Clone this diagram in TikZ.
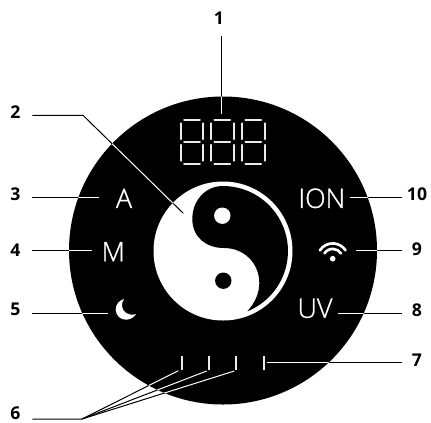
\documentclass[tikz,border=0pt]{standalone}
\usepackage{fontspec}
\setmainfont{Open Sans}
\newfontfamily\keyfont[FakeBold=1]{Open Sans Light}

\tikzset{
  numlabel/.style={font=\fontsize{13.2}{15}\selectfont\bfseries, inner sep=0pt, minimum width=24.75pt},
  numright/.style={numlabel, minimum width=22.5pt},
  keytext/.style={font=\keyfont\fontsize{20.2}{22}\selectfont, text=white, inner sep=0pt},
  callout/.style={line width=0.75pt},
  segment/.style={line width=1.6pt, white!92!black, line cap=round},
  tickmark/.style={line width=1.5pt, white!92!black},
}

% all the callout lines, drawn once in black and once in white
\newcommand{\calloutlines}[1]{
  \draw[callout,#1] (lab1.south -| e1) -- (e1);
  \draw[callout,#1] (lab2.east |- k2) -- (k2) -- (e2);
  \draw[callout,#1] (lab3.east |- e3) -- (e3);
  \draw[callout,#1] (lab4.east |- e4) -- (e4);
  \draw[callout,#1] (lab5.east |- e5) -- (e5);
  \draw[callout,#1] (lab6.east |- k6) -- (k6) -- (e6a);
  \draw[callout,#1] (k6) -- (e6b);
  \draw[callout,#1] (k6) -- (e6c);
  \draw[callout,#1] (lab7.west |- e7) -- (e7);
  \draw[callout,#1] (lab8.west |- e8) -- (e8);
  \draw[callout,#1] (lab9.west |- e9) -- (e9);
  \draw[callout,#1] (lab10.west |- e10) -- (e10);
}

\begin{document}
\begin{tikzpicture}[x=0.75pt,y=-0.75pt]

\path[use as bounding box,fill=white] (0,0) rectangle (431,422);

% body
\fill[black] (223,250.5) circle[radius=154];

% numbers
\node[numlabel,minimum height=27pt] (lab1) at (219,18) {1};
\node[numlabel] (lab2) at (15.5,111.7) {2};
\node[numlabel] (lab3) at (15.5,194) {3};
\node[numlabel] (lab4) at (15.5,250) {4};
\node[numlabel] (lab5) at (15.5,309) {5};
\node[numlabel] (lab6) at (15.5,413.5) {6};
\node[numright] (lab7) at (417,360.7) {7};
\node[numright] (lab8) at (417,310) {8};
\node[numright] (lab9) at (417,249) {9};
\node[numright] (lab10) at (417,194) {10};

% free ends of the callouts
\coordinate (e1) at (221.5,114);
\coordinate (k2) at (83,115.3);
\coordinate (e2) at (183.3,213.3);
\coordinate (e3) at (99,197.3);
\coordinate (e4) at (92,250.3);
\coordinate (e5) at (108,313.3);
\coordinate (k6) at (82,419);
\coordinate (e6a) at (178.3,370.7);
\coordinate (e6b) at (206.7,371);
\coordinate (e6c) at (234.3,371);
\coordinate (e7) at (266.7,362);
\coordinate (e8) at (338,313.3);
\coordinate (e9) at (355.7,250.3);
\coordinate (e10) at (350,197.3);

\calloutlines{black}
\begin{scope}
  \clip (223,250.5) circle[radius=154];
  \calloutlines{white}
\end{scope}

% display
\foreach \dx in {180.7,211,242} {
  \begin{scope}[shift={(\dx,120.3)}]
    \foreach \sy in {0,21.7,43.4}
      \draw[segment] (3.5,\sy) -- (19.1,\sy);
    \foreach \sx in {0,22.6} {
      \draw[segment] (\sx,3) -- (\sx,18.7);
      \draw[segment] (\sx,24.7) -- (\sx,40.4);
    }
  \end{scope}
}

% yin yang
\fill[white] (223,251) circle[radius=69.5];
\fill[black] (247.3,311.3) arc[start angle=68,end angle=-90,radius=65]
  .. controls (205,186) and (192.3,201) .. (192.3,219)
  .. controls (192.3,237) and (206,248) .. (224,248)
  .. controls (244,248) and (259.3,263) .. (259.3,283)
  .. controls (259.3,293) and (255,303) .. (247.3,311.3) -- cycle;
\fill[white] (222.3,215.7) circle[radius=8.2];
\fill[black] (223.3,280.7) circle[radius=8.2];
\begin{scope}
  \clip (223,251) circle[radius=69.5];
  \draw[callout,black] (k2) -- (e2);
\end{scope}

% keys
\node[keytext] (keyA) at (124,198.3) {A};
\node[keytext] (keyM) at (113.3,251.7) {M};
\node[keytext] (keyION) at (321.7,198.3) {ION};
\node[keytext] (keyUV) at (315,308.3) {UV};

% moon
\fill[white] (124,299) .. controls (119,300.5) and (115.7,304.5) .. (115.7,309.5)
  .. controls (115.7,315.5) and (120.5,319.7) .. (126,319.7)
  .. controls (130,319.7) and (134,317.5) .. (136,314)
  .. controls (129,316.5) and (122.5,312) .. (122,306.5)
  .. controls (121.7,303.5) and (122.5,301) .. (124,299) -- cycle;

% wifi
\fill[white] (332.7,258.7) circle[radius=2.8];
\foreach \r in {9.8,15.3}
  \draw[white,line width=2pt,line cap=round] (332.7,258.7) ++(-147:\r) arc[start angle=-147,end angle=-33,radius=\r];

% ticks
\foreach \tx in {181.7,208.7,236,263.5}
  \draw[tickmark] (\tx,356) -- (\tx,370);

\end{tikzpicture}
\end{document}
